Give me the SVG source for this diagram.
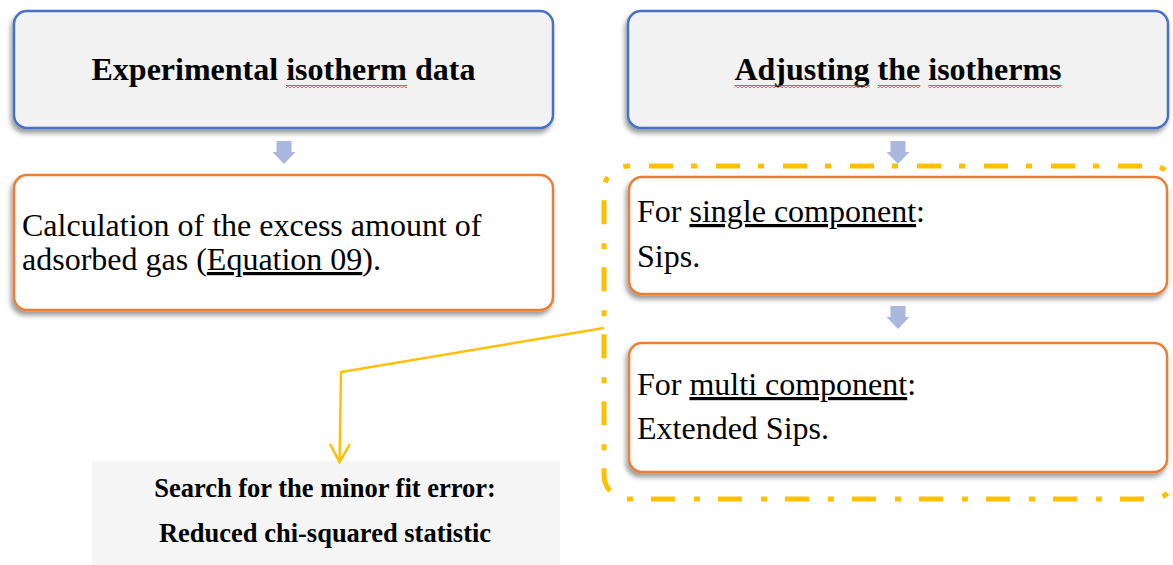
<svg xmlns="http://www.w3.org/2000/svg" width="1173" height="565" viewBox="0 0 1173 565">
  <defs>
    <filter id="shadow" x="-5%" y="-10%" width="110%" height="130%">
      <feDropShadow dx="-2" dy="4" stdDeviation="2.5" flood-color="#000" flood-opacity="0.4"/>
    </filter>
    <pattern id="wave" width="4" height="3" patternUnits="userSpaceOnUse">
      <path d="M0,2.4 L2,0.6 L4,2.4" fill="none" stroke="#e02828" stroke-width="1.1"/>
    </pattern>
    <marker id="vee" markerUnits="userSpaceOnUse" viewBox="-20 -12 22 24" markerWidth="22" markerHeight="24" refX="0" refY="0" orient="auto" overflow="visible">
      <path d="M-18,-10 L0,0 L-18,10" fill="none" stroke="#FFC000" stroke-width="2.4" stroke-linejoin="miter"/>
    </marker>
  </defs>
  <style>
    .head { fill: #F2F2F2; stroke: #4472C4; stroke-width: 2.5; filter: url(#shadow); }
    .step { fill: #FFFFFF; stroke: #ED7D31; stroke-width: 2.5; filter: url(#shadow); }
    .bold { font-family: "Liberation Serif", "Times New Roman", serif; font-weight: bold; fill: #000; }
    .body { font-family: "Liberation Serif", "Times New Roman", serif; font-size: 32px; fill: #000; }
    .flow { fill: #AAB7DF; }
    .ul { text-decoration: underline; }
  </style>

  <!-- dash-dot group outline around the isotherm models -->
  <g id="models-group">
    <rect x="604" y="166" width="572" height="333" rx="24" ry="24" fill="none" stroke="#FFC000" stroke-width="5" stroke-dasharray="24 18 6 19" stroke-dashoffset="46"/>
  </g>

  <g id="experimental">
    <rect class="head" x="14" y="11" width="539" height="117" rx="13"/>
    <text class="bold" x="283.5" y="80" font-size="32" text-anchor="middle">Experimental isotherm data</text>
    <rect x="286" y="85" width="121" height="3" fill="url(#wave)"/>
  </g>

  <g id="excess">
    <rect class="step" x="14" y="175" width="539" height="135" rx="13"/>
    <text class="body" x="22" y="236">Calculation of the excess amount of</text>
    <text class="body" x="22" y="270">adsorbed gas (<tspan class="ul">Equation 09</tspan>).</text>
  </g>

  <g id="adjusting">
    <rect class="head" x="628" y="11" width="540" height="117" rx="13"/>
    <text class="bold" x="898" y="80" font-size="32" text-anchor="middle">Adjusting the isotherms</text>
    <rect x="734.5" y="85" width="135" height="3" fill="url(#wave)"/>
    <rect x="877.6" y="85" width="42.7" height="3" fill="url(#wave)"/>
    <rect x="928.3" y="85" width="133.3" height="3" fill="url(#wave)"/>
  </g>

  <g id="single">
    <rect class="step" x="629" y="177" width="538" height="117" rx="13"/>
    <text class="body" x="637" y="222">For <tspan class="ul">single component</tspan>:</text>
    <text class="body" x="637" y="267">Sips.</text>
  </g>

  <g id="multi">
    <rect class="step" x="629" y="343" width="538" height="129" rx="13"/>
    <text class="body" x="637" y="395">For <tspan class="ul">multi component</tspan>:</text>
    <text class="body" x="637" y="439">Extended Sips.</text>
  </g>

  <g id="fit-error">
    <rect x="92" y="461" width="468" height="110" fill="#F5F5F5"/>
    <text class="bold" x="325" y="497" font-size="26.5" text-anchor="middle">Search for the minor fit error:</text>
    <text class="bold" x="325" y="542" font-size="26.5" text-anchor="middle">Reduced chi-squared statistic</text>
  </g>

  <g id="connectors">
    <path class="flow" d="M276.5,141 H291.5 V152 H295.5 L284,164 L272.5,152 H276.5 Z"/>
    <path class="flow" d="M890.5,141 H905.5 V152 H909.5 L898,164 L886.5,152 H890.5 Z"/>
    <path class="flow" d="M890.5,306 H905.5 V317 H909.5 L898,329 L886.5,317 H890.5 Z"/>
    <polyline points="604,328 341,372 339.5,462" fill="none" stroke="#FFC000" stroke-width="2.4" stroke-linejoin="miter" marker-end="url(#vee)"/>
  </g>
</svg>
